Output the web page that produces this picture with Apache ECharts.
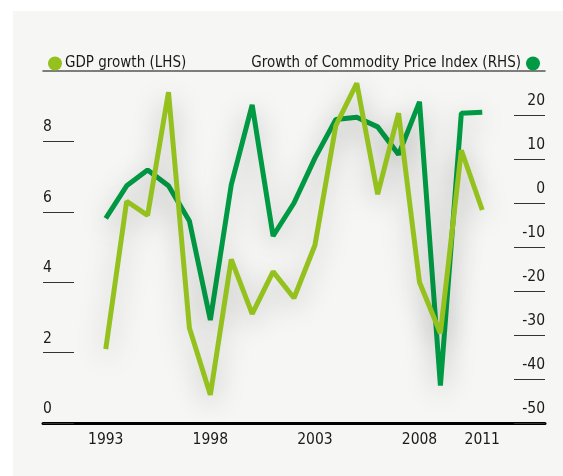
<!DOCTYPE html>
<html>
<head>
<meta charset="utf-8">
<script src="https://cdn.jsdelivr.net/npm/echarts@6/dist/echarts.min.js"></script>
<style>
  html, body { margin: 0; padding: 0; background: #ffffff; }
  #chart { width: 563px; height: 476px; }
</style>
</head>
<body>
<div id="chart"></div>
<script>
// 연도 / 값
const years = [1993, 1994, 1995, 1996, 1997, 1998, 1999, 2000, 2001, 2002,
               2003, 2004, 2005, 2006, 2007, 2008, 2009, 2010, 2011];
const gdpGrowth = [2.1, 6.3, 5.9, 9.4, 2.7, 0.8, 4.65, 3.1, 4.3, 3.55,
                   5.05, 8.45, 9.65, 6.5, 8.8, 4.0, 2.55, 7.75, 6.05];
const commodityGrowth = [-3.5, 3.9, 7.5, 3.9, -4.1, -26.6, 4.1, 22.3, -7.5, 0,
                         10.2, 19, 19.5, 17.3, 11, 23, -41.5, 20.4, 20.6];
const yearLabels = [1993, 1998, 2003, 2008, 2011];

const gdpName = 'GDP growth (LHS)';
const comName = 'Growth of Commodity Price Index (RHS)';
const lightGreen = '#95c11f';
const darkGreen = '#009a44';

// 좁은 글꼴이 있으면 쓰고, 없으면 폭에 맞게 크기 조정
const ctx = document.createElement('canvas').getContext('2d');
function textWidth(text, size, family) {
    ctx.font = size + 'px ' + family;
    return ctx.measureText(text).width;
}
function hasFont(name) {
    const probe = 'GDP growth 1993 mmmwwlli';
    return ['monospace', 'serif'].some(fb =>
        textWidth(probe, 40, "'" + name + "', " + fb) !== textWidth(probe, 40, fb));
}
const candidates = ['Liberation Sans Narrow', 'DejaVu Sans Condensed', 'Roboto', 'Liberation Sans'];
const fontName = candidates.find(hasFont) || 'sans-serif';
const font = "'" + fontName + "', sans-serif";
function fitSize(text, target) {
    const s = 18 * target / textWidth(text, 18, font);
    return Math.min(18, Math.round(s * 2) / 2);
}
const legendSize = fitSize(gdpName, 123);
const tickSize = fitSize('1993', 36);

const chart = echarts.init(document.getElementById('chart'));

const shadow = {
    shadowColor: 'rgba(0, 0, 0, 0.28)',
    shadowBlur: 28,
    shadowOffsetY: 7
};

chart.setOption({
    animation: false,
    backgroundColor: '#ffffff',
    textStyle: { fontFamily: font },
    graphic: [{
        type: 'rect',
        z: -10,
        shape: { x: 13, y: 11, width: 550, height: 465 },
        style: { fill: '#f6f6f4' }
    }],
    grid: { left: 43, right: 18, top: 71, bottom: 53 },
    legend: [{
        data: [gdpName],
        left: 43,
        top: 51,
        icon: 'circle',
        itemWidth: 14,
        itemHeight: 14,
        itemGap: 4,
        textStyle: { fontFamily: font, fontSize: legendSize, color: '#1a1a1a', padding: [0, 0, 0, -2] }
    }, {
        data: [comName],
        right: 18,
        top: 51,
        align: 'right',
        icon: 'circle',
        itemWidth: 14,
        itemHeight: 14,
        textStyle: { fontFamily: font, fontSize: legendSize, color: '#1a1a1a' }
    }],
    xAxis: [{
        type: 'value',
        min: 1990,
        max: 2014,
        splitLine: { show: false },
        axisTick: { show: false },
        axisLine: { onZero: false, lineStyle: { color: '#000', width: 3 } },
        axisLabel: {
            customValues: yearLabels,
            formatter: v => String(v),
            fontFamily: font,
            fontSize: tickSize,
            color: '#1a1a1a',
            margin: 9
        }
    }, {
        type: 'value',
        position: 'top',
        min: 1990,
        max: 2014,
        splitLine: { show: false },
        axisTick: { show: false },
        axisLabel: { show: false },
        axisLine: { onZero: false, lineStyle: { color: '#555', width: 1.5 } }
    }],
    yAxis: [{
        type: 'value',
        position: 'left',
        min: 0,
        max: 10,
        interval: 2,
        splitLine: { show: false },
        axisLine: { show: false },
        axisTick: { show: true, inside: true, length: 31, lineStyle: { color: '#333', width: 1 } },
        axisLabel: {
            inside: true,
            showMaxLabel: false,
            margin: 0,
            align: 'left',
            verticalAlign: 'bottom',
            padding: [0, 0, 6, 0],
            fontFamily: font,
            fontSize: tickSize,
            color: '#1a1a1a'
        }
    }, {
        type: 'value',
        position: 'right',
        min: -50,
        max: 30,
        interval: 10,
        splitLine: { show: false },
        axisLine: { show: false },
        axisTick: { show: true, inside: true, length: 31, lineStyle: { color: '#333', width: 1 } },
        axisLabel: {
            inside: true,
            showMaxLabel: false,
            margin: 0,
            align: 'right',
            verticalAlign: 'bottom',
            padding: [0, 0, 6, 0],
            fontFamily: font,
            fontSize: tickSize,
            color: '#1a1a1a'
        }
    }],
    series: [{
        name: comName,
        type: 'line',
        yAxisIndex: 1,
        data: years.map((y, i) => [y, commodityGrowth[i]]),
        symbol: 'none',
        color: darkGreen,
        lineStyle: Object.assign({ width: 5, color: darkGreen }, shadow)
    }, {
        name: gdpName,
        type: 'line',
        yAxisIndex: 0,
        data: years.map((y, i) => [y, gdpGrowth[i]]),
        symbol: 'none',
        color: lightGreen,
        lineStyle: Object.assign({ width: 5, color: lightGreen }, shadow)
    }]
});
</script>
</body>
</html>
